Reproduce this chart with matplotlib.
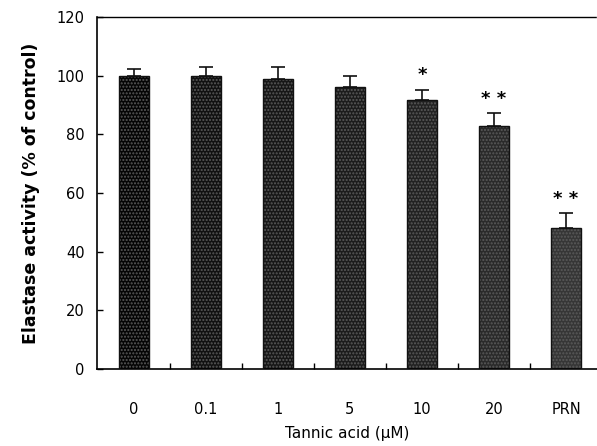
import numpy as np
import matplotlib.pyplot as plt

# data
categories = ['0', '0.1', '1', '5', '10', '20', 'PRN']
activity = [100.0, 100.0, 98.9, 96.1, 91.8, 83.0, 48.2]
err_up = [2.4, 3.0, 4.1, 3.7, 3.4, 4.2, 4.9]
marks = ['', '', '', '', '*', '* *', '* *']
bar_colors = ['#050505', '#111111', '#171717', '#1c1c1c', '#222222', '#2a2a2a', '#363636']

fig = plt.figure(figsize=(5.97, 4.46), dpi=100)
ax = fig.add_axes([0.1625, 0.1726, 0.8375, 0.7893])

x = np.arange(len(categories))
bars = ax.bar(x, activity, width=0.42, color=bar_colors, hatch='.....', zorder=2)
for b in bars:
    b.set_edgecolor('#5a5a5a')
    b.set_linewidth(0)
# dark outline over the stippled fill
ax.bar(x, activity, width=0.42, fill=False, edgecolor='#111111', linewidth=1.0, zorder=3)

ax.errorbar(x, activity, yerr=[np.zeros(len(x)), err_up], fmt='none', ecolor='#111111',
            elinewidth=1.2, capsize=5, capthick=1.2, zorder=4)

for xi, val, e, m in zip(x, activity, err_up, marks):
    if m:
        ax.text(xi, val + e + 5.0, m, ha='center', va='center', fontsize=13, fontweight='bold')

ax.set_xlim(-0.51, 6.43)
ax.set_ylim(0, 120)
ax.set_yticks(np.arange(0, 121, 20))
ax.set_xticks(x)
ax.set_xticklabels(categories)
ax.set_xticks(x[:-1] + 0.5, minor=True)
ax.tick_params(axis='x', which='major', length=0, pad=24, labelsize=10.5)
ax.tick_params(axis='x', which='minor', direction='in', length=4, width=1)
ax.tick_params(axis='y', direction='in', length=4, width=1, pad=9, labelsize=10.5)

ax.spines['right'].set_visible(False)
ax.spines['top'].set_linestyle((0, (2, 1)))
ax.spines['top'].set_linewidth(1)
ax.spines['left'].set_linewidth(1.2)
ax.spines['bottom'].set_linewidth(1.2)

ax.set_ylabel('Elastase activity (% of control)', fontsize=12.5, fontweight='bold', labelpad=12)
ax.set_xlabel('Tannic acid (\u03bcM)', fontsize=11, labelpad=6)

plt.savefig('out.png', dpi=100)
